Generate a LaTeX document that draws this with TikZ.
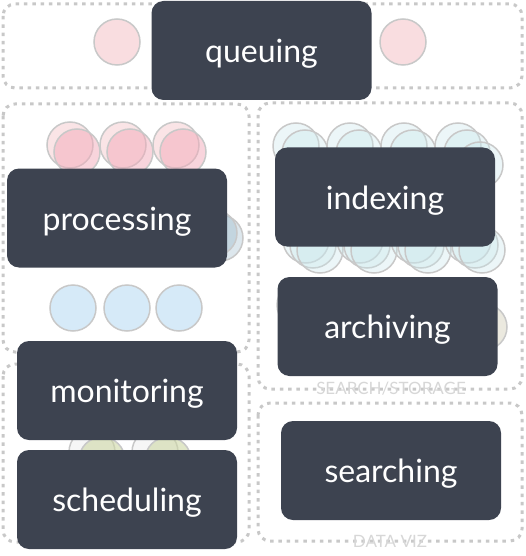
\documentclass[tikz,border=0pt]{standalone}
\usepackage{fontspec}
\setmainfont{Lato}
\definecolor{boxdark}{RGB}{61,67,80}
\definecolor{dotgray}{RGB}{200,200,200}
\definecolor{ringgray}{RGB}{200,200,200}
\definecolor{pinkA}{RGB}{249,221,224}
\definecolor{pinkB}{RGB}{242,170,185}
\definecolor{blueA}{RGB}{214,234,248}
\definecolor{steel}{RGB}{170,195,210}
\definecolor{tealA}{RGB}{200,230,234}
\definecolor{beige}{RGB}{235,233,223}
\definecolor{olive}{RGB}{205,215,165}
\definecolor{labelgray}{RGB}{215,215,215}
\tikzset{
  x=1pt, y=-1pt,
  group/.style={draw=dotgray, line width=3pt, dash pattern=on 3.5pt off 4.8pt, rounded corners=12pt},
  ball/.style={circle, draw=ringgray, line width=1.5pt, minimum size=46pt, inner sep=0pt},
  task/.style={fill=boxdark, rounded corners=12pt, minimum width=220pt, minimum height=99pt, inner sep=0pt, text=white, font=\fontsize{32}{38}\selectfont, text height=30pt, text depth=6pt},
  grouplabel/.style={text=labelgray, font=\fontsize{17}{19}\selectfont, inner sep=0pt}
}
\begin{document}
\begin{tikzpicture}
\useasboundingbox (0,0) rectangle (525,556);
% groups
\draw[group] (3,4) rectangle (522,88);
\draw[group] (3,104) rectangle (249,352);
\draw[group] (258,103) rectangle (522,389);
\draw[group] (3,364) rectangle (249,542);
\draw[group] (258,403) rectangle (522,541);
\node[grouplabel] (lss) at (391,389) {SEARCH/STORAGE};
\node[grouplabel] (ldv) at (390,541) {DATA VIZ};
% queuing circles
\node[ball, fill=pinkA] (q1) at (117,42) {};
\node[ball, fill=pinkA] (q2) at (403,42) {};
% processing circles
\foreach \i/\x in {1/70,2/123,3/176}{
  \node[ball, fill=pinkA, fill opacity=0.8] (pa\i) at (\x,145) {};
  \node[ball, fill=pinkB, fill opacity=0.5] (pb\i) at (\x+7,152) {};
}
\node[ball, fill=steel, fill opacity=0.4] (ps1) at (220,238) {};
\node[ball, fill=steel, fill opacity=0.5] (ps2) at (214,233) {};
\foreach \i/\x in {1/73,2/127,3/179}{
  \node[ball, fill=blueA] (pc\i) at (\x,308) {};
}
% indexing circles
\foreach \i/\x in {1/296,2/350,3/404,4/458}{
  \node[ball, fill=tealA, fill opacity=0.35] (ia\i) at (\x,146) {};
  \node[ball, fill=tealA, fill opacity=0.35] (ib\i) at (\x+9,153) {};
  \node[ball, fill=tealA, fill opacity=0.35] (ic\i) at (\x+10,240) {};
  \node[ball, fill=tealA, fill opacity=0.35] (id\i) at (\x+17,245) {};
  \node[ball, fill=tealA, fill opacity=0.35] (ie\i) at (\x+24,250) {};
}
\node[ball, fill=tealA, fill opacity=0.35] (if) at (480,165) {};
% archiving circles
\node[ball, fill=gray!15] (aa) at (300,305) {};
\node[ball, fill=beige] (ab) at (484,327) {};
% monitoring circles
\node[ball, fill=gray!10, fill opacity=0.7] (ma) at (92,452) {};
\node[ball, fill=gray!10, fill opacity=0.7] (mb) at (155,452) {};
\node[ball, fill=olive, fill opacity=0.6] (mc) at (102,460) {};
\node[ball, fill=olive, fill opacity=0.6] (md) at (168,460) {};
% task boxes
\node[task] (queuing) at (261.5,50.5) {queuing};
\node[task] (processing) at (117,218) {processing};
\node[task] (indexing) at (385,197) {indexing};
\node[task] (archiving) at (387.5,326.5) {archiving};
\node[task] (monitoring) at (127,390.5) {monitoring};
\node[task] (scheduling) at (127,499.5) {scheduling};
\node[task] (searching) at (391,470.5) {searching};
\end{tikzpicture}
\end{document}
